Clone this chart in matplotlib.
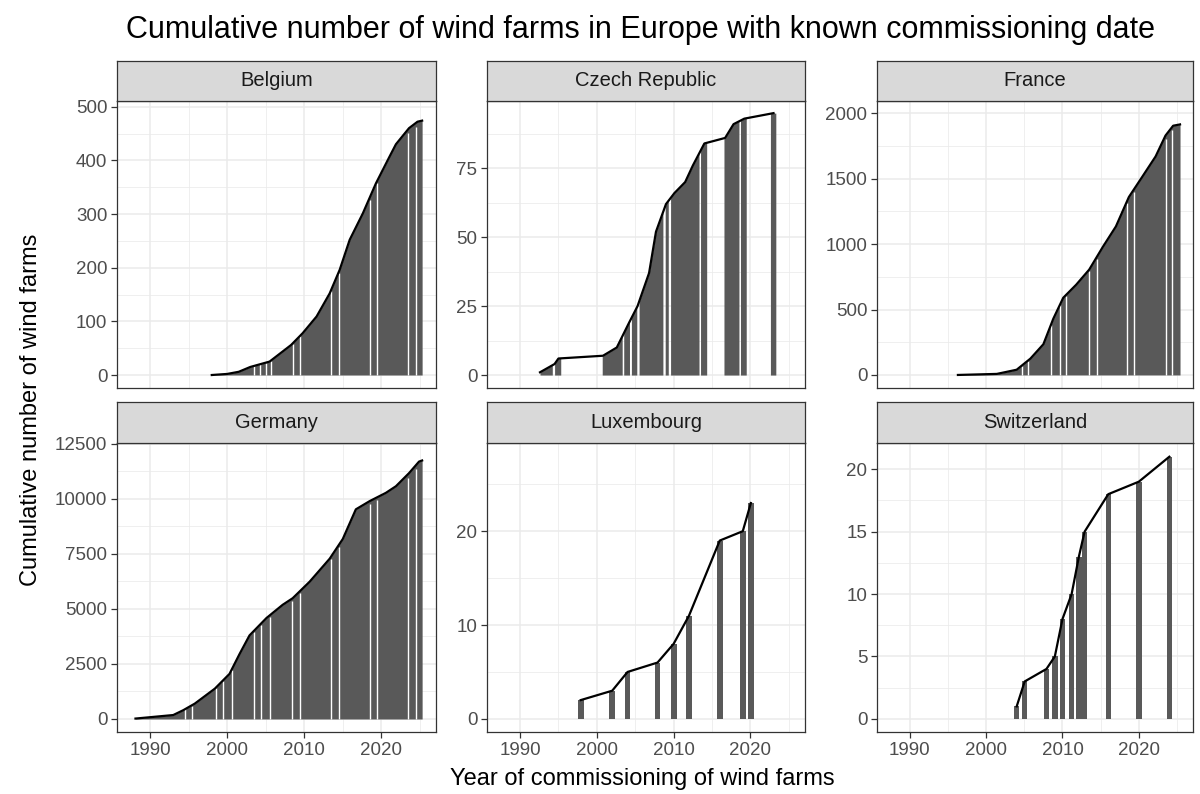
import numpy as np
import matplotlib
matplotlib.use("Agg")
import matplotlib.pyplot as plt
from matplotlib.ticker import MultipleLocator

plt.rcParams['font.family'] = ['Liberation Sans', 'DejaVu Sans']

# Datos (ano decimal, numero acumulado)
countries = ["Belgium", "Czech Republic", "France", "Germany", "Luxembourg", "Switzerland"]

be_x = [1998.0, 2000.0, 2001.5, 2003.0, 2005.5, 2008.3, 2009.8, 2011.6, 2013.3, 2014.6,
        2015.9, 2017.6, 2019.3, 2021.0, 2021.9, 2023.6, 2024.7, 2025.3]
be_y = [0, 2, 6, 15, 25, 56, 78, 109, 152, 196, 252, 301, 357, 405, 430, 460, 472, 474]
be_gaps = [2003.5, 2004.3, 2005.0, 2005.7, 2008.5, 2009.5, 2013.5, 2014.5, 2018.5, 2019.5,
           2023.5, 2024.5]

cz_x = [1992.6, 1994.5, 1995.0, 2000.8, 2002.6, 2004.2, 2005.3, 2006.8, 2007.7, 2009.0,
        2010.1, 2011.5, 2012.5, 2014.0, 2016.7, 2017.8, 2019.2, 2023.0]
cz_y = [1, 4, 6, 7, 10, 19, 25, 37, 52, 62, 66, 70, 76, 84, 86, 91, 93, 95]
cz_spans = [(1992.6, 1994.2), (1994.5, 1995.3), (2000.7, 2003.3), (2003.5, 2004.25),
            (2004.5, 2005.2), (2005.5, 2008.6), (2008.9, 2009.3), (2009.6, 2013.3),
            (2013.5, 2014.3), (2016.55, 2018.5), (2018.7, 2019.45), (2022.6, 2023.3)]

fr_x = [1996.3, 2001.4, 2004.0, 2005.8, 2007.5, 2008.8, 2010.1, 2011.8, 2013.5, 2015.3,
        2017.0, 2018.7, 2020.4, 2022.2, 2023.5, 2024.5, 2025.4]
fr_y = [0, 8, 40, 125, 235, 430, 590, 690, 805, 980, 1135, 1360, 1510, 1670, 1830, 1905, 1915]
fr_gaps = [2004.7, 2005.5, 2008.5, 2009.7, 2010.5, 2013.5, 2014.5, 2018.5, 2019.4,
           2023.5, 2024.4]

de_x = [1988.1, 1993.0, 1994.3, 1995.8, 1998.4, 2000.3, 2001.6, 2002.9, 2005.1, 2007.2,
        2008.5, 2010.7, 2013.3, 2015.0, 2016.7, 2018.5, 2020.6, 2021.9, 2023.6, 2024.9, 2025.3]
de_y = [20, 180, 400, 700, 1380, 2050, 2950, 3800, 4590, 5190, 5490, 6240, 7285, 8180,
        9530, 9905, 10280, 10580, 11175, 11700, 11750]
de_gaps = [1994.5, 1995.4, 1998.5, 1999.5, 2000.6, 2003.5, 2004.4, 2005.5, 2008.4, 2009.5,
           2013.5, 2014.5, 2018.5, 2019.5, 2023.5, 2024.5]

lu_x = [1997.9, 2002.0, 2004.0, 2007.9, 2010.0, 2012.0, 2016.0, 2019.0, 2020.05]
lu_y = [2, 3, 5, 6, 8, 11, 19, 20, 23]

ch_x = [2004.0, 2005.05, 2007.9, 2009.0, 2010.0, 2011.2, 2012.15, 2012.9, 2016.0, 2020.0, 2024.0]
ch_y = [1, 3, 4, 5, 8, 10, 13, 15, 18, 19, 21]

# Colores (theme_bw de ggplot)
BAR = '#595959'
GRID = '#EBEBEB'
BORDER = '#333333'
STRIP = '#D9D9D9'

W, H = 1200, 794
fig = plt.figure(figsize=(W / 100, H / 100), dpi=100)

# Posicion de los paneles en pixeles: (izquierda, ancho), (arriba tira, arriba panel, abajo)
cols = [(117, 319), (487, 318), (877, 316)]
rows = [(61, 101, 388), (402, 443, 732)]

# Limites y marcas de cada panel
ylims = [(-24.2, 510.6), (-4.7, 99.4), (-99.7, 2094), (-591, 12545), (-1.4, 29.4), (-1.05, 22.1)]
ymajor = [100, 25, 500, 2500, 10, 5]


def add_box(left, top, width, height):
    return fig.add_axes([left / W, 1 - (top + height) / H, width / W, height / H])


def fill_spans(ax, x, y, spans):
    # rellena el area bajo la linea solo en los intervalos con parques
    x = np.asarray(x, float)
    y = np.asarray(y, float)
    for a, b in spans:
        xs = np.concatenate([[a], x[(x > a) & (x < b)], [b]])
        ax.fill_between(xs, 0, np.interp(xs, x, y), color=BAR, lw=0, zorder=2)


def white_gaps(ax, x, y, gaps):
    g = np.asarray(gaps, float)
    ax.vlines(g, 0, np.interp(g, x, y) * 0.985, color='white', lw=1.0, zorder=3)


for i, name in enumerate(countries):
    r, c = divmod(i, 3)
    left, width = cols[c]
    stop, ptop, pbot = rows[r]
    ax = add_box(left, ptop, width, pbot - ptop)
    sax = add_box(left, stop, width, ptop - stop)

    # tira con el nombre del pais
    sax.set_facecolor(STRIP)
    sax.set_xticks([])
    sax.set_yticks([])
    for sp in sax.spines.values():
        sp.set_color(BORDER)
        sp.set_linewidth(0.9)
    sax.text(0.5, 0.5, name, ha='center', va='center', fontsize=14.5, color='#1A1A1A',
             transform=sax.transAxes)

    if name == "Belgium":
        fill_spans(ax, be_x, be_y, [(be_x[0], be_x[-1])])
        white_gaps(ax, be_x, be_y, be_gaps)
        ax.plot(be_x, be_y, color='black', lw=1.6, zorder=4)
    elif name == "Czech Republic":
        fill_spans(ax, cz_x, cz_y, cz_spans)
        ax.plot(cz_x, cz_y, color='black', lw=1.6, zorder=4)
    elif name == "France":
        fill_spans(ax, fr_x, fr_y, [(fr_x[0], fr_x[-1])])
        white_gaps(ax, fr_x, fr_y, fr_gaps)
        ax.plot(fr_x, fr_y, color='black', lw=1.6, zorder=4)
    elif name == "Germany":
        fill_spans(ax, de_x, de_y, [(de_x[0], de_x[-1])])
        white_gaps(ax, de_x, de_y, de_gaps)
        ax.plot(de_x, de_y, color='black', lw=1.6, zorder=4)
    elif name == "Luxembourg":
        ax.bar(lu_x, lu_y, width=0.75, color=BAR, lw=0, zorder=2)
        ax.plot(lu_x, lu_y, color='black', lw=1.6, zorder=4)
    else:
        ax.bar(ch_x, ch_y, width=0.72, color=BAR, lw=0, zorder=2)
        ax.plot(ch_x, ch_y, color='black', lw=1.6, zorder=4)

    # ejes y rejilla
    ax.set_xlim(1985.7, 2027.1)
    ax.set_ylim(*ylims[i])
    ax.xaxis.set_major_locator(MultipleLocator(10))
    ax.xaxis.set_minor_locator(MultipleLocator(5))
    ax.yaxis.set_major_locator(MultipleLocator(ymajor[i]))
    ax.yaxis.set_minor_locator(MultipleLocator(ymajor[i] / 2))
    ax.grid(which='major', color=GRID, lw=1.1, zorder=0)
    ax.grid(which='minor', color=GRID, lw=0.55, zorder=0)
    ax.set_axisbelow(True)
    for sp in ax.spines.values():
        sp.set_color(BORDER)
        sp.set_linewidth(0.9)
    ax.tick_params(which='major', length=4.5, width=0.9, color=BORDER,
                   labelsize=13.5, labelcolor='#4D4D4D', pad=2.5)
    ax.tick_params(which='minor', length=0)
    if r == 0:
        ax.tick_params(axis='x', which='both', bottom=False, labelbottom=False)

fig.text(641 / W, 1 - 30 / H, "Cumulative number of wind farms in Europe with known commissioning date",
         ha='center', va='center', fontsize=22, color='black')
fig.text(642 / W, 1 - 779 / H, "Year of commissioning of wind farms",
         ha='center', va='center', fontsize=17, color='black')
fig.text(31 / W, 1 - 410 / H, "Cumulative number of wind farms",
         ha='center', va='center', rotation=90, fontsize=17, color='black')

fig.savefig("out.png", dpi=100, facecolor='white')
